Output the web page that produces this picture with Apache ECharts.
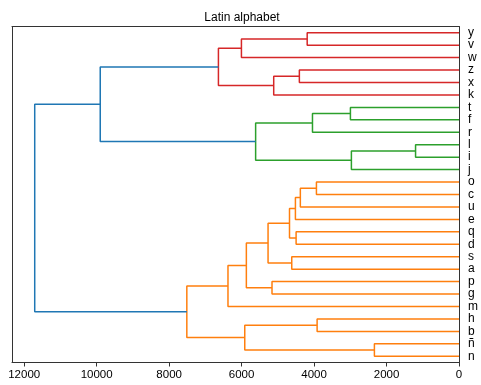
<!DOCTYPE html>
<html>
<head>
<meta charset="utf-8">
<script src="https://cdn.jsdelivr.net/npm/echarts@6/dist/echarts.min.js"></script>
<style>html,body{margin:0;padding:0;background:#fff}#c{width:481px;height:385px}</style>
</head>
<body>
<div id="c"></div>
<script>
// Leaves from bottom to top
const leaves = ['n','ñ','b','h','m','g','p','a','s','d','q','e','u','c','o','j','i','l','r','f','t','k','x','z','w','v','y'];
// Merges: child A, child B, height, cluster colour
const mergeA = ['y','N0','z','N2','N1','t','N5','l','N7','N6','N4','o','N11','N12','q','N13','s','N15','p','N17','N19','h','ñ','N21','N20','N10'];
const mergeB = ['v','w','x','k','N3','f','r','i','j','N8','N9','c','u','e','d','N14','a','N16','g','N18','m','b','n','N22','N23','N24'];
const mergeHeight = [4190,6005,4406,5114,6640,2997,4044,1199,2970,5613,9902,3935,4379,4515,4496,4678,4616,5270,5161,5869,6376,3916,2335,5913,7512,11710];
const mergeColor = ['red','red','red','red','red','green','green','green','green','green','blue','orange','orange','orange','orange','orange','orange','orange','orange','orange','orange','orange','orange','orange','orange','blue'];
const xTicks = [0,2000,4000,6000,8000,10000,12000];
const xMax = 12337;

const palette = {red:'#d62728', green:'#2ca02c', orange:'#ff7f0e', blue:'#1f77b4'};
const pos = {}, hgt = {};
leaves.forEach((l,i)=>{pos[l]=i*10+5; hgt[l]=0;});
const series = [];
mergeA.forEach((a,i)=>{
  const b = mergeB[i], h = mergeHeight[i], id = 'N'+i;
  pos[id] = (pos[a]+pos[b])/2; hgt[id] = h;
  series.push({
    type:'line', xAxisIndex:0, yAxisIndex:0, showSymbol:false, silent:true,
    lineStyle:{color:palette[mergeColor[i]], width:1.5},
    data:[[hgt[a],pos[a]],[h,pos[a]],[h,pos[b]],[hgt[b],pos[b]]]
  });
});

const chart = echarts.init(document.getElementById('c'), null, {renderer:'canvas'});
const font = 'Liberation Sans, Arial, sans-serif';
chart.setOption({
  animation:false,
  textStyle:{fontFamily:font},
  title:{text:'Latin alphabet', left:237, top:7, textAlign:'center',
    textStyle:{fontFamily:font, fontSize:12, fontWeight:'normal', color:'#000'}},
  grid:{left:12, right:18.5, top:26.5, bottom:22.5, containLabel:false},
  xAxis:[{
    type:'value', inverse:true, min:0, max:xMax, interval:2000, position:'bottom',
    axisLine:{show:true, onZero:false, lineStyle:{color:'#333', width:1}},
    axisTick:{show:true, length:4, lineStyle:{color:'#333'}},
    axisLabel:{fontFamily:font, fontSize:11.5, color:'#000', margin:6,
      showMaxLabel:false, formatter:v=> xTicks.indexOf(v)>=0 ? String(v) : ''},
    splitLine:{show:false}
  },{
    type:'value', inverse:true, min:0, max:xMax, position:'top',
    axisLine:{show:true, onZero:false, lineStyle:{color:'#333', width:1}},
    axisTick:{show:false}, axisLabel:{show:false}, splitLine:{show:false}
  }],
  yAxis:[{
    type:'value', min:0, max:leaves.length*10, position:'left',
    axisLine:{show:true, onZero:false, lineStyle:{color:'#333', width:1}},
    axisTick:{show:false}, axisLabel:{show:false}, splitLine:{show:false}
  },{
    type:'category', data:leaves, position:'right', boundaryGap:true,
    axisLine:{show:true, onZero:false, lineStyle:{color:'#333', width:1}},
    axisTick:{show:false},
    axisLabel:{fontFamily:font, fontSize:12, color:'#000', margin:9, interval:0},
    splitLine:{show:false}
  }],
  series: series
});
</script>
</body>
</html>
